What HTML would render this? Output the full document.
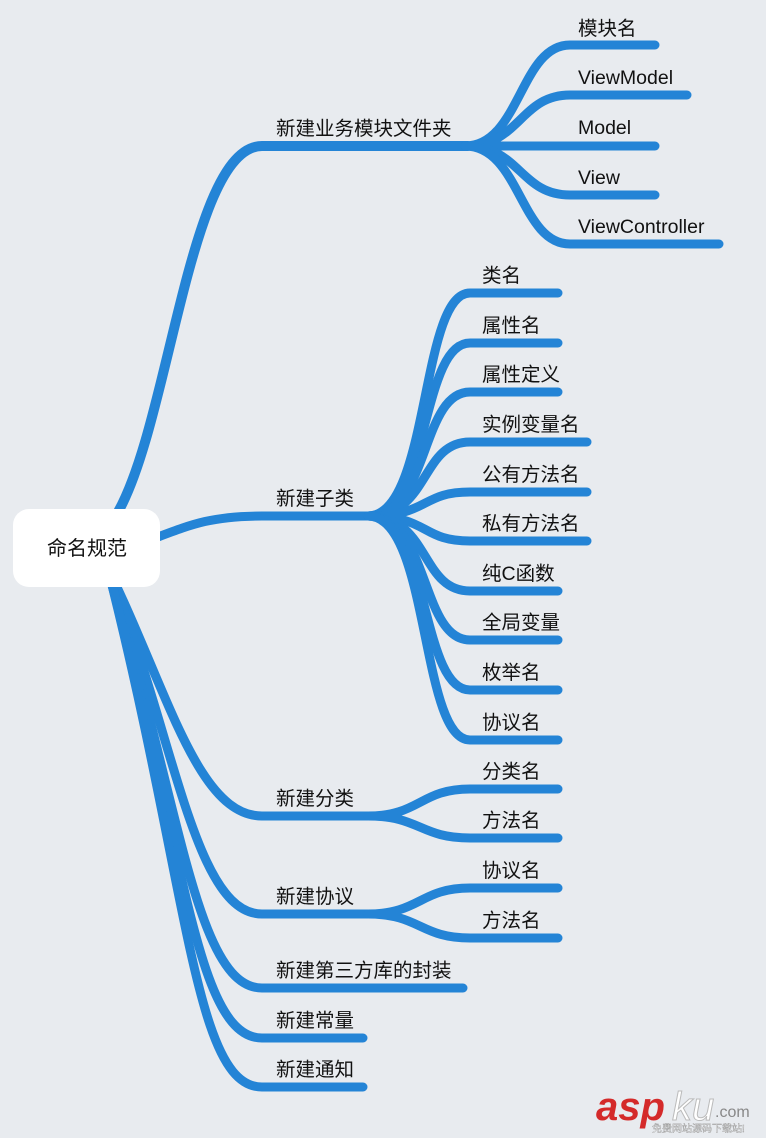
<!DOCTYPE html>
<html><head><meta charset="utf-8"><style>
html,body{margin:0;padding:0;background:#e8ebef;}
svg{display:block}
text{font-family:"Liberation Sans","Noto Sans CJK SC",sans-serif;font-size:19.5px;fill:#111;}
</style></head><body>
<svg width="766" height="1138" viewBox="0 0 766 1138" xmlns="http://www.w3.org/2000/svg">
<rect width="766" height="1138" fill="#e8ebef"/>
<g fill="none" stroke="#2484d6" stroke-linecap="round" stroke-width="9">
<path d="M118 512 C170 420,190 146,262 146 L468 146" stroke-width="10"/>
<path d="M150 540 C190 525,210 516,262 516 L370 516"/>
<path d="M116 585 C170 700,200 816,262 816 L370 816"/>
<path d="M114 585 C175 740,195 914,262 914 L370 914"/>
<path d="M112 585 C180 800,195 988,262 988 L463 988"/>
<path d="M112 585 C185 850,195 1038,262 1038 L363 1038"/>
<path d="M112 585 C190 900,195 1087,262 1087 L363 1087"/>
<path d="M465 146 C520 146,520 45,570 45 L655 45"/>
<path d="M465 146 C520 146,520 95,570 95 L687 95"/>
<path d="M465 146 L655 146"/>
<path d="M465 146 C520 146,520 195,570 195 L655 195"/>
<path d="M465 146 C520 146,520 244,570 244 L719 244"/>
<path d="M368 516 C430 516,420 293,470 293 L558 293"/>
<path d="M368 516 C430 516,420 343,470 343 L558 343"/>
<path d="M368 516 C430 516,420 392,470 392 L558 392"/>
<path d="M368 516 C430 516,420 442,470 442 L587 442"/>
<path d="M368 516 C430 516,420 492,470 492 L587 492"/>
<path d="M368 516 C430 516,420 541,470 541 L587 541"/>
<path d="M368 516 C430 516,420 591,470 591 L558 591"/>
<path d="M368 516 C430 516,420 640,470 640 L558 640"/>
<path d="M368 516 C430 516,420 690,470 690 L558 690"/>
<path d="M368 516 C430 516,420 740,470 740 L558 740"/>
<path d="M368 816 C420 816,420 789,470 789 L558 789"/>
<path d="M368 816 C420 816,420 838,470 838 L558 838"/>
<path d="M368 914 C420 914,420 888,470 888 L558 888"/>
<path d="M368 914 C420 914,420 938,470 938 L558 938"/>
</g>
<rect x="13" y="509" width="147" height="78" rx="16" fill="#fff"/>
<text x="87" y="555" text-anchor="middle" style="font-size:20px">命名规范</text>
<text x="276" y="135">新建业务模块文件夹</text>
<text x="276" y="505">新建子类</text>
<text x="276" y="805">新建分类</text>
<text x="276" y="903">新建协议</text>
<text x="276" y="977">新建第三方库的封装</text>
<text x="276" y="1027">新建常量</text>
<text x="276" y="1076">新建通知</text>
<text x="578" y="35">模块名</text>
<text x="578" y="84">ViewModel</text>
<text x="578" y="134">Model</text>
<text x="578" y="184">View</text>
<text x="578" y="233">ViewController</text>
<text x="482" y="282">类名</text>
<text x="482" y="332">属性名</text>
<text x="482" y="381">属性定义</text>
<text x="482" y="431">实例变量名</text>
<text x="482" y="481">公有方法名</text>
<text x="482" y="530">私有方法名</text>
<text x="482" y="580">纯C函数</text>
<text x="482" y="629">全局变量</text>
<text x="482" y="679">枚举名</text>
<text x="482" y="729">协议名</text>
<text x="482" y="778">分类名</text>
<text x="482" y="827">方法名</text>
<text x="482" y="877">协议名</text>
<text x="482" y="927">方法名</text>
<text x="596" y="1120" style="font-size:40px;font-weight:bold;font-style:italic;fill:#d42a2a">asp</text>
<text x="672" y="1120" style="font-size:40px;font-style:italic;fill:#fff;stroke:#bbb;stroke-width:1">ku</text>
<text x="715" y="1117" style="font-size:16px;fill:#888">.com</text>
<text x="652" y="1132" style="font-size:10px;fill:#fff;stroke:#999;stroke-width:0.4">免费网站源码下载站!</text>
</svg>
</body></html>
